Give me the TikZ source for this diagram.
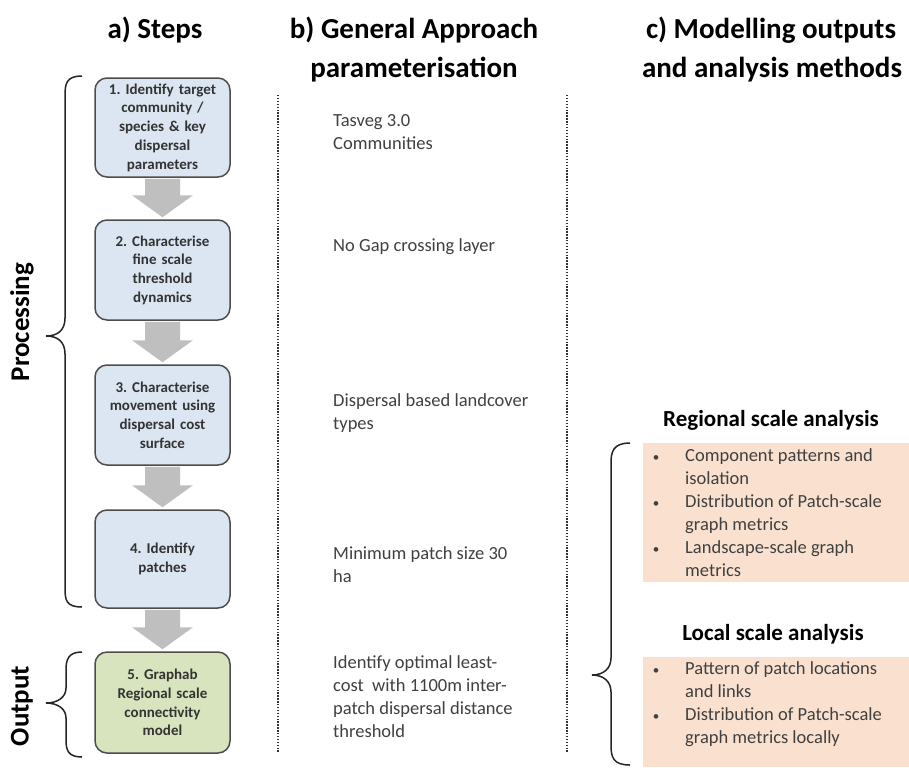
\documentclass[tikz,border=0pt]{standalone}
\usepackage{fontspec}
\setmainfont{Carlito}
\usetikzlibrary{calc}
\frenchspacing
\definecolor{boxblue}{HTML}{DCE6F2}
\definecolor{boxgreen}{HTML}{D7E4BD}
\definecolor{boxline}{HTML}{4D4D4D}
\definecolor{arrowgray}{HTML}{BFBFBF}
\definecolor{peach}{HTML}{FAE1CF}
\definecolor{txtgray}{HTML}{404040}
\definecolor{boxtxt}{HTML}{333333}
\tikzset{
  stepbox/.style={draw=boxline, line width=1.5pt, rounded corners=12pt, fill=boxblue,
    minimum width=135pt, text width=124pt, align=center, inner sep=0pt,
    font=\fontsize{15}{18.7}\selectfont\bfseries, text=boxtxt},
  title/.style={font=\fontsize{29}{39}\selectfont\bfseries, anchor=base, inner sep=0pt},
  sidelabel/.style={font=\fontsize{27}{30}\selectfont\bfseries, rotate=90, inner sep=0pt},
  btext/.style={font=\fontsize{18.5}{23}\selectfont, text=txtgray, anchor=base west, align=left, inner sep=0pt},
  ctext/.style={font=\fontsize{18.5}{23}\selectfont, text=txtgray, anchor=base west, align=left, inner sep=0pt},
  bul/.style={font=\fontsize{13}{14}\selectfont, text=txtgray, anchor=base, inner sep=0pt},
  subtitle/.style={font=\fontsize{23}{27}\selectfont\bfseries, anchor=base, inner sep=0pt},
  peachbox/.style={fill=peach, draw=none, anchor=north west, inner sep=0pt},
  arrowfill/.style={fill=arrowgray},
  brace/.style={draw=black!85, line width=1.5pt},
  divider/.style={draw=black!80, line width=1.6pt, dash pattern=on 1.4pt off 1.5pt}
}
\newcommand\blockarr[2]{%
  \fill[arrowfill] ($(#1.south)+(-17.5,1)$) -- ($(#1.south)+(17.5,1)$)
    -- ($(#2.north)+(17.5,-24)$) -- ($(#2.north)+(30.5,-24)$)
    -- ($(#2.north)+(0,-2)$) -- ($(#2.north)+(-30.5,-24)$)
    -- ($(#2.north)+(-17.5,-24)$) -- cycle;}
\begin{document}
\begin{tikzpicture}[x=1pt,y=-1pt]
\useasboundingbox[fill=white] (0,0) rectangle (909,769);

% titles
\node[title] (ta) at (155,38) {a) Steps};
\node[title] (tb1) at (414,38) {b) General Approach};
\node[title] (tb2) at (414,77) {parameterisation};
\node[title] (tc1) at (771,38) {c) Modelling outputs};
\node[title] (tc2) at (772,77) {and analysis methods};

% step boxes
\node[stepbox, minimum height=99pt] (s1) at (162.5,127.5) {1. Identify target\\community /\\species \& key\\dispersal\\parameters};
\node[stepbox, minimum height=100pt] (s2) at (162.5,270) {2. Characterise\\fine scale\\threshold\\dynamics};
\node[stepbox, minimum height=100pt] (s3) at (162.5,415) {3. Characterise\\movement using\\dispersal cost\\surface};
\node[stepbox, minimum height=98pt] (s4) at (162.5,559) {4. Identify\\patches};
\node[stepbox, minimum height=101pt, fill=boxgreen] (s5) at (162.5,702.5) {5. Graphab\\Regional scale\\connectivity\\model};

\blockarr{s1}{s2}
\blockarr{s2}{s3}
\blockarr{s3}{s4}
\blockarr{s4}{s5}

% left braces and labels
\draw[brace] (82,76) .. controls (66,76) and (65,84) .. (65,96) -- (65,318)
  .. controls (65,330) and (58,336) .. (46,336) .. controls (58,336) and (65,342) .. (65,354)
  -- (65,588) .. controls (65,600) and (66,607) .. (82,607);
\node[sidelabel] (proc) at (22,322) {Processing};
\draw[brace] (82,652) .. controls (68,652) and (66,660) .. (66,670) -- (66,688)
  .. controls (66,697) and (58,703) .. (46,703) .. controls (58,703) and (66,709) .. (66,718)
  -- (66,740) .. controls (66,750) and (68,757) .. (82,757);
\node[sidelabel] (outp) at (22,706) {Output};

% dividers
\coordinate (d1t) at (278,95); \coordinate (d1b) at (278,752);
\coordinate (d2t) at (567,95); \coordinate (d2b) at (567,752);
\draw[divider] (d1t) -- (d1b);
\draw[divider] (d2t) -- (d2b);

% column b texts (anchor = baseline of last line)
\node[btext] (b1) at (333,149) {Tasveg 3.0\\Communities};
\node[btext] (b2) at (333,251) {No Gap crossing layer};
\node[btext] (b3) at (333,429) {Dispersal based landcover\\types};
\node[btext] (b4) at (333,582) {Minimum patch size 30\\ha};
\node[btext] (b5) at (333,737) {Identify optimal least-\\cost\ \ with 1100m inter-\\patch dispersal distance\\threshold};

% column c
\node[subtitle] (reg) at (771,426) {Regional scale analysis};
\node[peachbox, minimum width=266pt, minimum height=139pt] (r1) at (643,443) {};
\node[bul] (r1b1) at (656,461) {•};
\node[ctext] (r1t1) at (685,484) {Component patterns and\\isolation};
\node[bul] (r1b2) at (656,507) {•};
\node[ctext] (r1t2) at (685,530) {Distribution of Patch-scale\\graph metrics};
\node[bul] (r1b3) at (656,553) {•};
\node[ctext] (r1t3) at (685,576) {Landscape-scale graph\\metrics};

\node[subtitle] (loc) at (773,640) {Local scale analysis};
\node[peachbox, minimum width=266pt, minimum height=110pt] (r2) at (643,657) {};
\node[bul] (r2b1) at (656,674) {•};
\node[ctext] (r2t1) at (685,697) {Pattern of patch locations\\and links};
\node[bul] (r2b2) at (656,720) {•};
\node[ctext] (r2t2) at (685,743) {Distribution of Patch-scale\\graph metrics locally};

\draw[brace] (630,443) .. controls (613,443) and (611,452) .. (611,463) -- (611,658)
  .. controls (611,668) and (604,675) .. (592,675) .. controls (604,675) and (611,682) .. (611,692)
  -- (611,745) .. controls (611,757) and (613,765) .. (630,765);
\end{tikzpicture}
\end{document}
